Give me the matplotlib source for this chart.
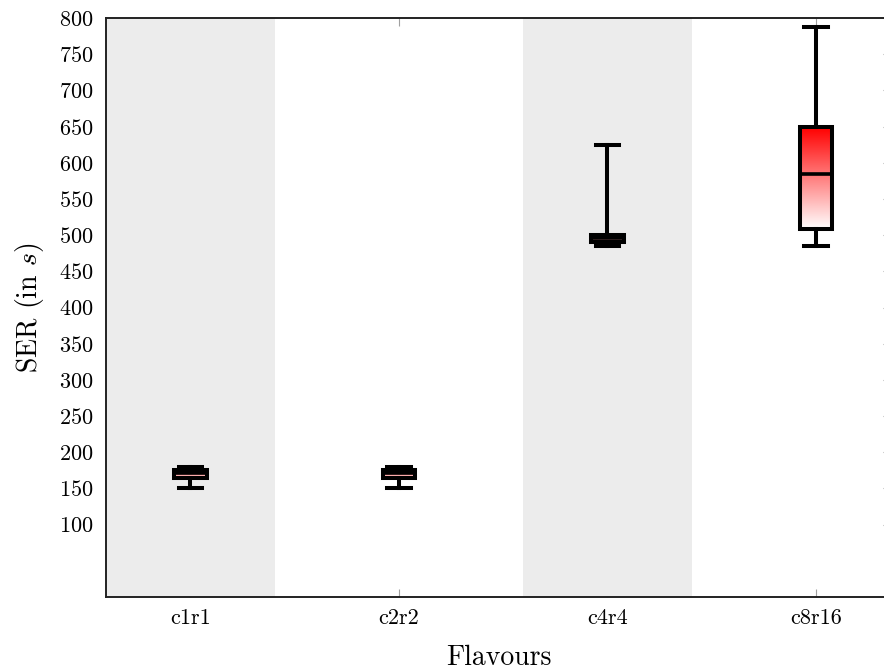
import numpy as np
import matplotlib
matplotlib.use("Agg")
import matplotlib.pyplot as plt
from matplotlib.colors import LinearSegmentedColormap

# box statistics (SER in s)
flavours = ['c1r1', 'c2r2', 'c4r4', 'c8r16']
whislo = [150, 150, 485, 485]
q1 = [165, 165, 491, 509]
med = [172, 172, 496, 585]
q3 = [176, 176, 500, 649]
whishi = [180, 180, 624, 787]
yticks = list(range(100, 801, 50))

plt.rcParams['font.family'] = 'cmr10'
plt.rcParams['mathtext.fontset'] = 'cm'
plt.rcParams['axes.formatter.use_mathtext'] = True

fig = plt.figure(figsize=(8.84, 6.71), dpi=100)
ax = fig.add_axes([106/884, 74/671, 785/884, 579/671])

pos = np.arange(1, len(flavours) + 1)
box_w = 0.155

# shaded bands behind every other category
for i, p in enumerate(pos):
    if i % 2 == 0:
        ax.axvspan(p - 0.405, p + 0.405, color='#ececec', lw=0, zorder=1)

stats = []
for i in range(len(flavours)):
    stats.append(dict(whislo=whislo[i], q1=q1[i], med=med[i], q3=q3[i],
                      whishi=whishi[i], fliers=[], label=flavours[i]))

lw = 2.9
ax.bxp(stats, positions=pos, widths=box_w, capwidths=0.113, showfliers=False,
       patch_artist=True,
       boxprops=dict(facecolor='none', edgecolor='black', linewidth=lw),
       whiskerprops=dict(color='black', linewidth=lw),
       capprops=dict(color='black', linewidth=lw),
       medianprops=dict(color='black', linewidth=lw * 0.9),
       zorder=4)

# red-to-white gradient fill inside the boxes
cmap = LinearSegmentedColormap.from_list('rw', ['white', 'red'])
grad = np.linspace(0, 1, 256).reshape(-1, 1)
for i, p in enumerate(pos):
    ax.imshow(grad, cmap=cmap, origin='lower', aspect='auto',
              extent=[p - box_w/2, p + box_w/2, q1[i], q3[i]], zorder=3)

ax.set_xlim(pos[0] - 0.405, pos[-1] + 0.36)
ax.set_ylim(0, 800)
ax.set_xticks(pos)
ax.set_xticklabels(flavours)
ax.set_yticks(yticks)

ax.set_axisbelow(True)
ax.tick_params(axis='both', direction='in', color='#a0a0a0', width=0.8,
               length=6, labelsize=16, top=True, right=True)
ax.tick_params(axis='y', pad=9)
ax.tick_params(axis='x', pad=8)
for s in ax.spines.values():
    s.set_linewidth(1.4)
    s.set_color('#222222')

ax.set_ylabel('SER (in $s$)', fontsize=20)
ax.set_xlabel('Flavours', fontsize=20)
ax.yaxis.set_label_coords(-0.077, 0.5)
ax.xaxis.set_label_coords(0.5, -0.082)

fig.savefig('out.png', dpi=100)
